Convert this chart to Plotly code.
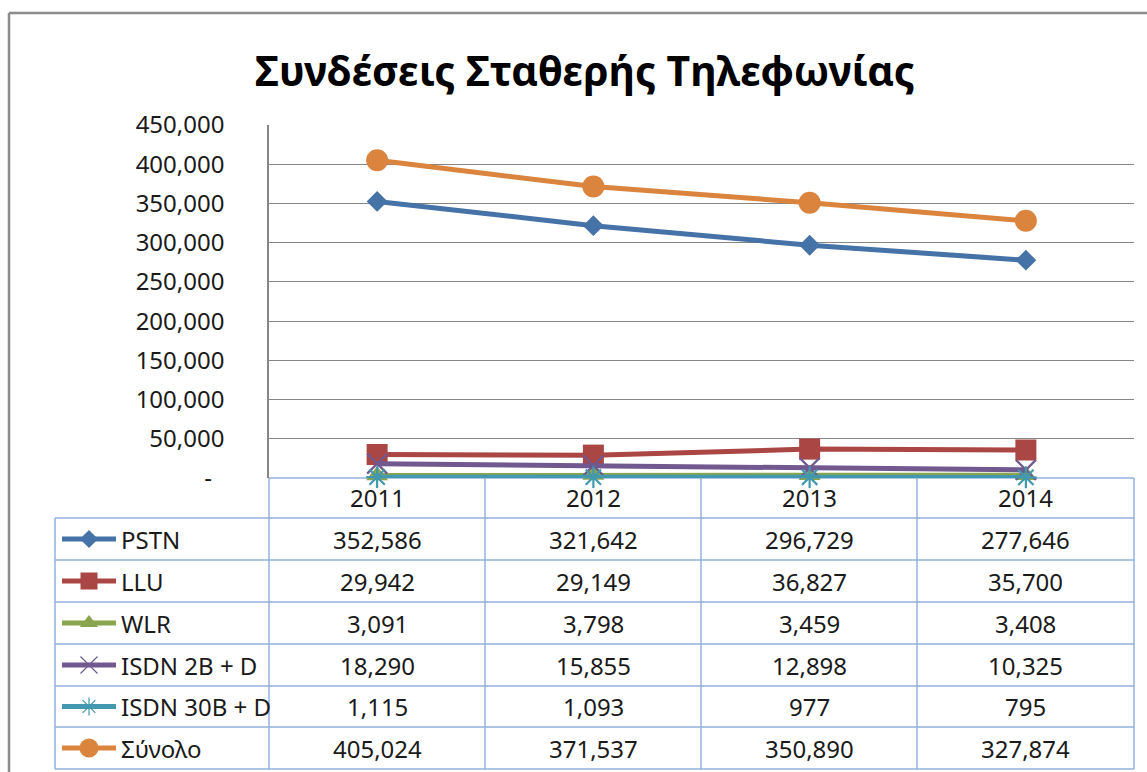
import plotly.graph_objects as go

# ---------------- data ----------------
title_text = "Συνδέσεις Σταθερής Τηλεφωνίας"
years = ["2011", "2012", "2013", "2014"]
series_names = ["PSTN", "LLU", "WLR", "ISDN 2B + D", "ISDN 30B + D", "Σύνολο"]
pstn = [352586, 321642, 296729, 277646]
llu = [29942, 29149, 36827, 35700]
wlr = [3091, 3798, 3459, 3408]
isdn_2b = [18290, 15855, 12898, 10325]
isdn_30b = [1115, 1093, 977, 795]
total = [405024, 371537, 350890, 327874]
y_tick_values = [0, 50000, 100000, 150000, 200000, 250000, 300000, 350000, 400000, 450000]

series_values = [pstn, llu, wlr, isdn_2b, isdn_30b, total]

# ---------------- styles ----------------
W, H = 1147, 772
FONT = "Noto Sans"
TXT = "#1a1a1a"
colors = ["#4572A7", "#AA4643", "#89A54E", "#71588F", "#4198AF", "#DB843D"]
symbols = ["diamond", "square", "triangle-up", "x-thin-open", "asterisk-open", "circle"]
sizes = [16, 21, 19, 20, 18, 22]
key_sizes = [14, 17, 16, 17, 15, 19]
open_widths = [0, 0, 0, 2.2, 2.2, 0]
key_open_widths = [0, 0, 0, 1.2, 1.2, 0]
GRID = "#868686"
TBL = "#92B1DC"

def px(x):
    return x / W

def py(y):
    return 1 - y / H

plot_left, plot_right = 269, 1134
plot_top, plot_bottom = 125, 478
col_edges = [55, 269, 485, 701, 917, 1134]
row_edges = [518, 560, 602, 644, 686, 727, 769]
header_top = 478

x_idx = list(range(len(years)))

fig = go.Figure()

for name, vals, c, sym, s, ow in zip(series_names, series_values, colors, symbols, sizes, open_widths):
    fig.add_trace(go.Scatter(
        x=x_idx, y=vals, name=name, mode="lines+markers",
        line=dict(color=c, width=5),
        marker=dict(symbol=sym, size=s, color=c, line=dict(color=c, width=ow)),
        xaxis="x", yaxis="y", showlegend=False, cliponaxis=False,
    ))

# legend keys inside the table (pixel overlay axes)
for i, (c, sym, s, ow) in enumerate(zip(colors, symbols, key_sizes, key_open_widths)):
    yc = (row_edges[i] + row_edges[i + 1]) / 2
    fig.add_trace(go.Scatter(
        x=[62, 116], y=[yc, yc], mode="lines",
        line=dict(color=c, width=5), xaxis="x2", yaxis="y2",
        showlegend=False, hoverinfo="skip",
    ))
    fig.add_trace(go.Scatter(
        x=[89], y=[yc], mode="markers",
        marker=dict(symbol=sym, size=s, color=c, line=dict(color=c, width=ow)),
        xaxis="x2", yaxis="y2", showlegend=False, hoverinfo="skip",
    ))

shapes = []
# outer chart border
shapes.append(dict(type="line", xref="paper", yref="paper",
                   x0=px(9), x1=px(W + 5), y0=py(13), y1=py(13),
                   line=dict(color="#8c8c8c", width=2.5)))
shapes.append(dict(type="line", xref="paper", yref="paper",
                   x0=px(9), x1=px(9), y0=py(13), y1=py(H + 5),
                   line=dict(color="#8c8c8c", width=2.5)))
# table horizontal lines
shapes.append(dict(type="line", xref="paper", yref="paper", layer="between",
                   x0=px(col_edges[1]), x1=px(col_edges[-1]), y0=py(header_top), y1=py(header_top),
                   line=dict(color=TBL, width=1.5)))
for ry in row_edges:
    shapes.append(dict(type="line", xref="paper", yref="paper", layer="between",
                       x0=px(col_edges[0]), x1=px(col_edges[-1]), y0=py(ry), y1=py(ry),
                       line=dict(color=TBL, width=1.5)))
# table vertical lines
shapes.append(dict(type="line", xref="paper", yref="paper", layer="between",
                   x0=px(col_edges[0]), x1=px(col_edges[0]), y0=py(row_edges[0]), y1=py(row_edges[-1]),
                   line=dict(color=TBL, width=1.5)))
for cx in col_edges[1:]:
    shapes.append(dict(type="line", xref="paper", yref="paper", layer="between",
                       x0=px(cx), x1=px(cx), y0=py(header_top), y1=py(row_edges[-1]),
                       line=dict(color=TBL, width=1.5)))

annotations = []
annotations.append(dict(text=title_text, xref="paper", yref="paper",
                        x=px(585), y=py(70), xanchor="center", yanchor="middle",
                        showarrow=False, font=dict(family=FONT, size=41, color="#000000", weight="bold")))
# header years
for i, yr in enumerate(years):
    annotations.append(dict(text=yr, xref="x", yref="paper", x=i, y=py(498),
                            xanchor="center", yanchor="middle", showarrow=False,
                            font=dict(family=FONT, size=24, color=TXT)))
# row labels & values
for r, (name, vals) in enumerate(zip(series_names, series_values)):
    yc = (row_edges[r] + row_edges[r + 1]) / 2
    annotations.append(dict(text=name, xref="paper", yref="paper", x=px(119), y=py(yc),
                            xanchor="left", yanchor="middle", showarrow=False,
                            font=dict(family=FONT, size=24, color=TXT)))
    for i, v in enumerate(vals):
        annotations.append(dict(text=f"{v:,}", xref="x", yref="paper", x=i, y=py(yc),
                                xanchor="center", yanchor="middle", showarrow=False,
                                font=dict(family=FONT, size=24, color=TXT)))

tick_text = [("-\u00a0\u00a0" if v == 0 else f"{v:,}") for v in y_tick_values]

fig.update_layout(
    width=W, height=H,
    autosize=False,
    margin=dict(l=0, r=0, t=0, b=0, pad=0, autoexpand=False),
    paper_bgcolor="white", plot_bgcolor="rgba(0,0,0,0)",
    font=dict(family=FONT, color=TXT),
    xaxis=dict(domain=[px(plot_left), px(plot_right)], range=[-0.5, 3.5],
               showgrid=False, zeroline=False, showline=False, showticklabels=False,
               fixedrange=True, automargin=False),
    yaxis=dict(domain=[py(plot_bottom), py(plot_top)], range=[0, 450000],
               tickvals=y_tick_values, ticktext=tick_text,
               showgrid=True, gridcolor=GRID, gridwidth=1.3,
               zeroline=False, showline=True, linecolor=GRID, linewidth=1.5,
               ticks="", ticklabelstandoff=38, automargin=False,
               tickfont=dict(family=FONT, size=24, color=TXT), fixedrange=True),
    xaxis2=dict(domain=[0, 1], range=[0, W], visible=False, anchor="y2",
                fixedrange=True, automargin=False),
    yaxis2=dict(domain=[0, 1], range=[H, 0], visible=False, anchor="x2",
                fixedrange=True, automargin=False),
    shapes=shapes,
    annotations=annotations,
)

fig.write_html(
    "out.html",
    config={"responsive": False, "displayModeBar": False},
    post_script="document.body.style.margin='0';document.body.style.overflow='hidden';",
)
